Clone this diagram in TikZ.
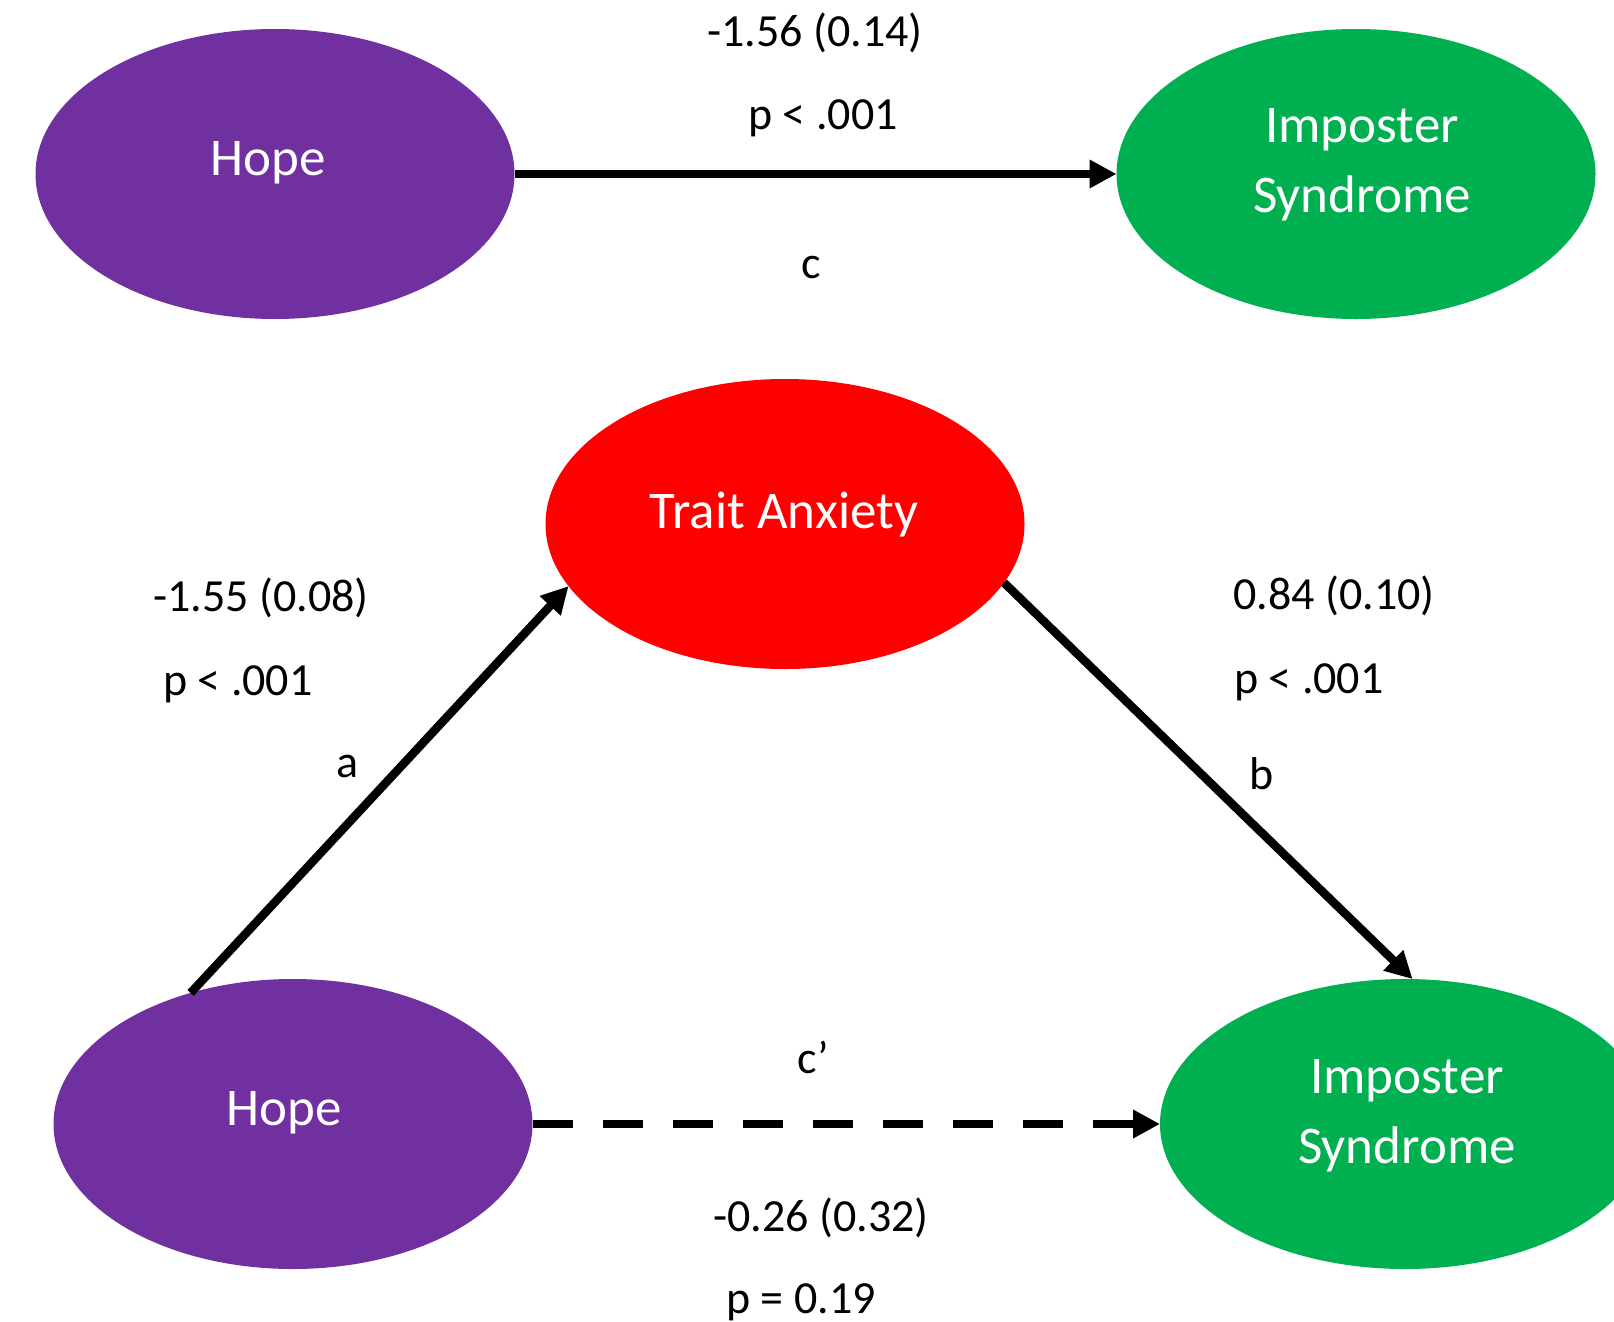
\documentclass[tikz,border=0pt]{standalone}
\usepackage{fontspec}
\setmainfont{Carlito}
\usetikzlibrary{shapes.geometric,arrows.meta,calc}
\definecolor{hopepurple}{HTML}{7030A0}
\definecolor{impgreen}{HTML}{00B050}
\definecolor{anxred}{HTML}{FF0000}
\begin{document}
\begin{tikzpicture}[x=1pt,y=-1pt,
  ell/.style={ellipse,minimum width=479pt,minimum height=290pt,inner sep=0pt,outer sep=0pt,draw=none},
  etxt/.style={text=white,font=\fontsize{53}{70}\selectfont,align=center,inner sep=0pt},
  lbl/.style={text=black,font=\fontsize{46}{52}\selectfont,inner sep=0pt},
  conn/.style={line width=8.5pt,-{Triangle[length=27pt,width=27pt]}}
]
\useasboundingbox (0,0) rectangle (1614,1322);
% ellipses
\node[ell,fill=hopepurple] (hopeA) at (275,174) {};
\node[ell,fill=impgreen] (impA) at (1356,174) {};
\node[ell,fill=anxred] (anx) at (785,524) {};
\node[ell,fill=hopepurple] (hopeB) at (293,1124) {};
\node[ell,fill=impgreen,minimum width=490pt] (impB) at (1405,1124) {};
% ellipse texts
\node[etxt] (hopeAt) at (268,163) {Hope};
\node[etxt] (impAt) at (1362,165) {Imposter\\Syndrome};
\node[etxt] (anxt) at (784,515) {Trait Anxiety};
\node[etxt] (hopeBt) at (284,1113) {Hope};
\node[etxt] (impBt) at (1407,1116) {Imposter\\Syndrome};
% connectors
\draw[conn] (hopeA.east) -- (impA.west);
\draw[conn] (hopeB.128.7) -- (anx.196);
\draw[conn] (anx.-15) -- (impB.87);
\draw[conn,dash pattern=on 40pt off 30pt] (hopeB.east) -- (impB.west);
% labels
\node[lbl] (cest) at (815,33) {-1.56 (0.14)};
\node[lbl] (cp) at (823,118) {p < .001};
\node[lbl] (clab) at (811,268) {c};
\node[lbl,anchor=west] (aest) at (153,598) {-1.55 (0.08)};
\node[lbl,anchor=west] (ap) at (163,684) {p < .001};
\node[lbl] (alab) at (348,766) {a};
\node[lbl,anchor=west] (best) at (1233,596) {0.84 (0.10)};
\node[lbl,anchor=west] (bp) at (1234,682) {p < .001};
\node[lbl] (blab) at (1262,774) {b};
\node[lbl] (cplab) at (813,1057) {c’};
\node[lbl] (cpest) at (821,1218) {-0.26 (0.32)};
\node[lbl] (cpp) at (801,1302) {p = 0.19};
\end{tikzpicture}
\end{document}
